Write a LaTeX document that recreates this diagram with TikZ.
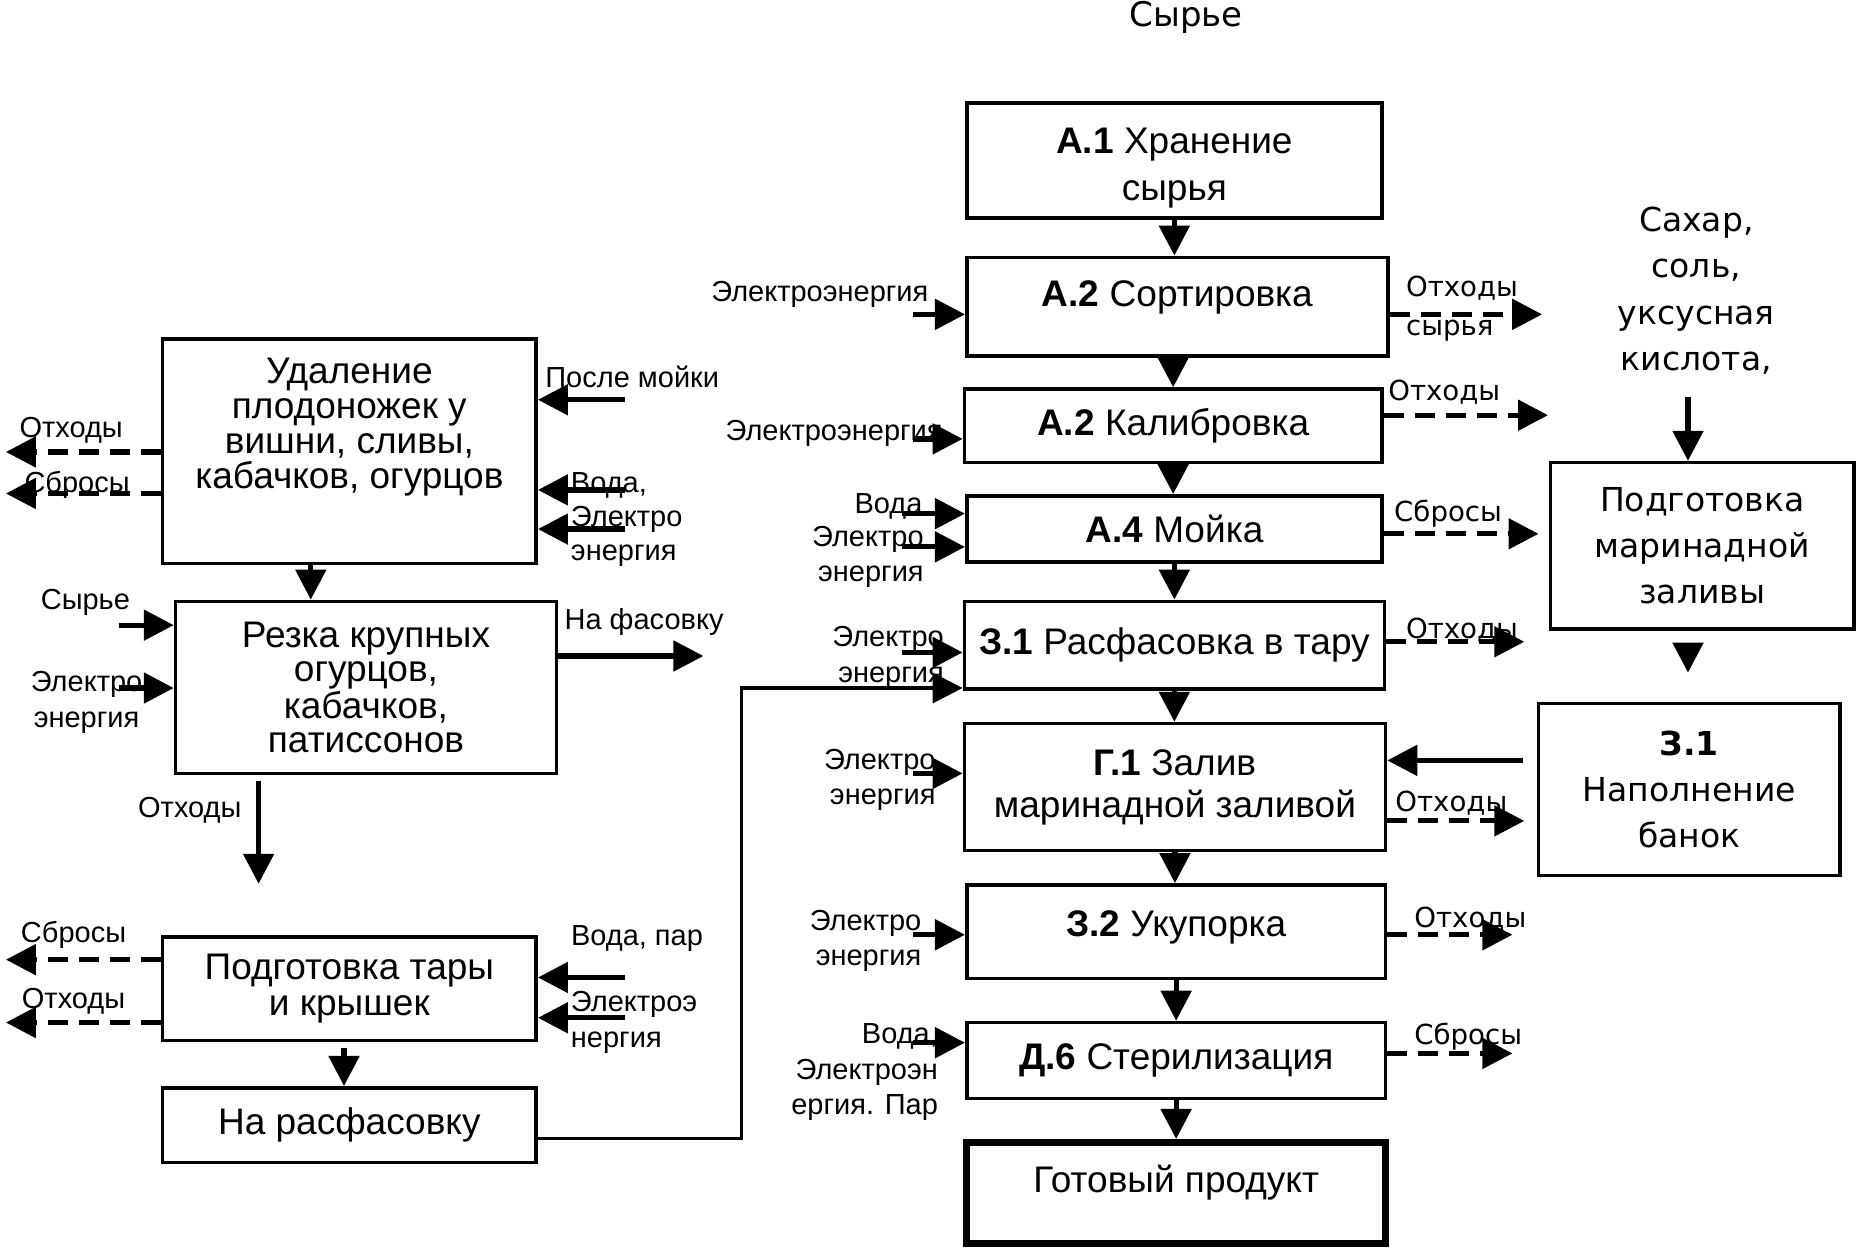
\documentclass[tikz,border=0pt]{standalone}
\usepackage{fontspec}
\setmainfont{Liberation Sans}
\newfontfamily\widefont{DejaVu Sans}
\usetikzlibrary{arrows.meta, positioning}

\begin{document}
\begin{tikzpicture}[x=0.5931pt, y=-0.5931pt]

  \tikzset{
    procnode/.style={
        shape=rectangle,
        draw=black,
        line width=1.8pt,
        align=center,
        inner sep=2pt,
        font=\fontsize{18.5}{21}\selectfont
      },
    wh/.style 2 args={minimum width=#1*0.5931pt, minimum height=#2*0.5931pt},
    widebox/.style={procnode, font=\widefont\fontsize{16.5}{23.2}\selectfont},
    lbl/.style={inner sep=0pt, font=\fontsize{14.5}{17.8}\selectfont},
    rlbl/.style={inner sep=0pt, align=left, font=\widefont\fontsize{13.8}{19.5}\selectfont},
    arr/.style={line width=2.6pt, -{Triangle[length=15pt, width=15pt]}},
    darr/.style={arr, dash pattern=on 10pt off 5.5pt}
  }

  \useasboundingbox (0,0) rectangle (1568,1055);

  % main column
  \node[inner sep=0pt, font=\widefont\fontsize{17}{20}\selectfont] (raw) at (1000,15) {Сырье};
  \node[procnode, wh={350}{97}, font=\fontsize{18.5}{23.5}\selectfont, text height=44pt] (a1) at (990,135.5) {\textbf{А.1} Хранение\\сырья};
  \node[procnode, wh={355}{83}, text depth=13.4pt] (a2) at (992.5,258.5) {\textbf{А.2} Сортировка};
  \node[procnode, wh={352}{62}] (a3) at (989,359) {\textbf{А.2} Калибровка};
  \node[procnode, wh={350}{56}] (a4) at (990,446) {\textbf{А.4} Мойка};
  \node[procnode, wh={354}{74}] (z1) at (990,544) {\textbf{З.1} Расфасовка в тару};
  \node[procnode, wh={355}{107}] (g1) at (990.5,663.5) {\textbf{Г.1} Залив\\маринадной заливой};
  \node[procnode, wh={353}{79}, text depth=8.5pt] (z2) at (991.5,785.5) {\textbf{З.2} Укупорка};
  \node[procnode, wh={353}{64}] (d6) at (991.5,894) {\textbf{Д.6} Стерилизация};
  \node[procnode, wh={353}{85}, line width=3.4pt, text depth=13.6pt] (gp) at (991.5,1005.5) {Готовый продукт};

  % right column
  \node[inner sep=0pt, align=center, font=\widefont\fontsize{16.5}{23.1}\selectfont] (sugar) at (1430,245) {Сахар,\\соль,\\уксусная\\кислота,};
  \node[widebox, wh={256}{140}] (mar) at (1435,460) {Подготовка\\маринадной\\заливы};
  \node[widebox, wh={254}{145}] (fill) at (1424,665.5) {\textbf{З.1}\\Наполнение\\банок};

  % left column
  \node[procnode, wh={315}{189}, font=\fontsize{18.5}{17.4}\selectfont, text depth=28pt] (ud) at (294.5,380.5) {Удаление\\плодоножек у\\вишни, сливы,\\кабачков, огурцов};
  \node[procnode, wh={321}{145}, font=\fontsize{18.5}{17.2}\selectfont] (rez) at (308.5,579.5) {Резка крупных\\огурцов,\\кабачков,\\патиссонов};
  \node[procnode, wh={315}{87}, font=\fontsize{18.5}{17.8}\selectfont] (tara) at (294.5,833.5) {Подготовка тары\\и крышек};
  \node[procnode, wh={315}{63}] (nar) at (294.5,948.5) {На расфасовку};

  % labels, main column
  \node[lbl, anchor=east] (l1) at (783,248) {Электроэнергия};
  \node[lbl, anchor=east] (l2) at (795,365) {Электроэнергия};
  \node[lbl, anchor=east] (l3) at (778,427) {Вода};
  \node[lbl, anchor=east, align=right] (l4) at (779,469.5) {Электро\\энергия};
  \node[lbl, anchor=east, align=right] (l5) at (796,554) {Электро\\энергия};
  \node[lbl, anchor=east, align=right] (l6) at (789,657.5) {Электро\\энергия};
  \node[lbl, anchor=east, align=right] (l7) at (777,793) {Электро\\энергия};
  \node[lbl, anchor=east, align=right] (l8) at (791,904) {Вода,\\Электроэн\\ергия. Пар};

  \node[rlbl, anchor=west, font=\widefont\fontsize{13.8}{19.6}\selectfont] (r1) at (1185,260.5) {Отходы\\сырья};
  \node[rlbl, anchor=west] (r2) at (1170,331) {Отходы};
  \node[rlbl, anchor=west] (r3) at (1175,433) {Сбросы};
  \node[rlbl, anchor=west] (r4) at (1185,531) {Отходы};
  \node[rlbl, anchor=west] (r5) at (1176,677) {Отходы};
  \node[rlbl, anchor=west] (r6) at (1192,775) {Отходы};
  \node[rlbl, anchor=west] (r7) at (1192,874) {Сбросы};

  % labels, left column
  \node[lbl] (lo1) at (60,363) {Отходы};
  \node[lbl] (ls1) at (65,409) {Сбросы};
  \node[lbl] (lp) at (533,318) {После мойки};
  \node[lbl, anchor=west, align=left, font=\fontsize{14.5}{17.2}\selectfont] (lv) at (481,438) {Вода,\\Электро\\энергия};
  \node[lbl] (lsy) at (72,508) {Сырье};
  \node[lbl, align=center] (le) at (73,592) {Электро\\энергия};
  \node[lbl] (lnf) at (543,524) {На фасовку};
  \node[lbl] (lo2) at (160,683) {Отходы};
  \node[lbl] (ls2) at (62,788) {Сбросы};
  \node[lbl] (lo3) at (62,844) {Отходы};
  \node[lbl] (lvp) at (537,791) {Вода, пар};
  \node[lbl, anchor=west, align=left] (lee) at (481,862) {Электроэ\\нергия};

  % main chain
  \draw[arr] (a1.south) -- (a1.south |- a2.north);
  \draw[arr] (a3.north |- a2.south) -- (a3.north);
  \draw[arr] (a3.south) -- (a3.south |- a4.north);
  \draw[arr] (a4.south) -- (a4.south |- z1.north);
  \draw[arr] (z1.south) -- (z1.south |- g1.north);
  \draw[arr] (g1.south) -- (g1.south |- z2.north);
  \draw[arr] (z2.south) -- (z2.south |- d6.north);
  \draw[arr] (d6.south) -- (d6.south |- gp.north);

  % inputs, main column
  \coordinate (e1) at (770,265);
  \coordinate (e2) at (770,370);
  \coordinate (e3) at (760,433);
  \coordinate (e4) at (760,461);
  \coordinate (e5) at (760,550);
  \coordinate (e6) at (770,652);
  \coordinate (e7) at (770,788);
  \coordinate (e8) at (770,879);
  \draw[arr] (e1) -- (e1 -| a2.west);
  \draw[arr] (e2) -- (e2 -| a3.west);
  \draw[arr] (e3) -- (e3 -| a4.west);
  \draw[arr] (e4) -- (e4 -| a4.west);
  \draw[arr] (e5) -- (e5 -| z1.west);
  \draw[arr] (e6) -- (e6 -| g1.west);
  \draw[arr] (e7) -- (e7 -| z2.west);
  \draw[arr] (e8) -- (e8 -| d6.west);

  % outputs, main column
  \coordinate (o1) at (1300,265);
  \coordinate (o2) at (1305,350);
  \coordinate (o3) at (1297,450);
  \coordinate (o4) at (1285,541);
  \coordinate (o5) at (1285,692);
  \coordinate (o6) at (1275,788);
  \coordinate (o7) at (1275,888);
  \draw[darr] (o1 -| a2.east) -- (o1);
  \draw[darr] (o2 -| a3.east) -- (o2);
  \draw[darr] (o3 -| a4.east) -- (o3);
  \draw[darr] (o4 -| z1.east) -- (o4);
  \draw[darr] (o5 -| g1.east) -- (o5);
  \draw[darr] (o6 -| z2.east) -- (o6);
  \draw[darr] (o7 -| d6.east) -- (o7);

  % marinade
  \coordinate (s1) at (1423,335);
  \coordinate (s3) at (1423,567);
  \coordinate (f1) at (1285,641);
  \draw[arr] (s1) -- (s1 |- mar.north);
  \draw[arr, shorten <=6pt] (s3 |- mar.south) -- (s3);
  \draw[arr, shorten <=7pt] (f1 -| fill.west) -- (f1 -| g1.east);

  % left column
  \coordinate (u1) at (262,490);
  \coordinate (t1) at (290,900);
  \coordinate (x1) at (218,745);
  \coordinate (nf) at (593,553);
  \draw[arr] (ud.south -| u1) -- (u1 |- rez.north);
  \draw[arr, shorten <=3pt] (t1 |- tara.south) -- (t1 |- nar.north);
  \draw[arr, shorten <=3pt] (x1 |- rez.south) -- (x1);
  \draw[arr] (nf -| rez.east) -- (nf);

  \coordinate (i1) at (527,337);
  \coordinate (i2) at (527,413);
  \coordinate (i3) at (527,446);
  \coordinate (i4) at (527,824);
  \coordinate (i5) at (527,858);
  \coordinate (i6) at (100,527);
  \coordinate (i7) at (100,580);
  \draw[arr] (i1) -- (i1 -| ud.east);
  \draw[arr] (i2) -- (i2 -| ud.east);
  \draw[arr] (i3) -- (i3 -| ud.east);
  \draw[arr] (i4) -- (i4 -| tara.east);
  \draw[arr] (i5) -- (i5 -| tara.east);
  \draw[arr] (i6) -- (i6 -| rez.west);
  \draw[arr] (i7) -- (i7 -| rez.west);

  \coordinate (w1) at (5,381);
  \coordinate (w2) at (5,416);
  \coordinate (w3) at (5,809);
  \coordinate (w4) at (5,862);
  \draw[darr] (w1 -| ud.west) -- (w1);
  \draw[darr] (w2 -| ud.west) -- (w2);
  \draw[darr] (w3 -| tara.west) -- (w3);
  \draw[darr] (w4 -| tara.west) -- (w4);

  % link to packing
  \coordinate (k1) at (625,960);
  \coordinate (k2) at (625,580);
  \draw[line width=1.6pt, -{Triangle[length=15pt, width=15pt]}] (k1 -| nar.east) -- (k1) -- (k2) -- (k2 -| z1.west);

\end{tikzpicture}
\end{document}
